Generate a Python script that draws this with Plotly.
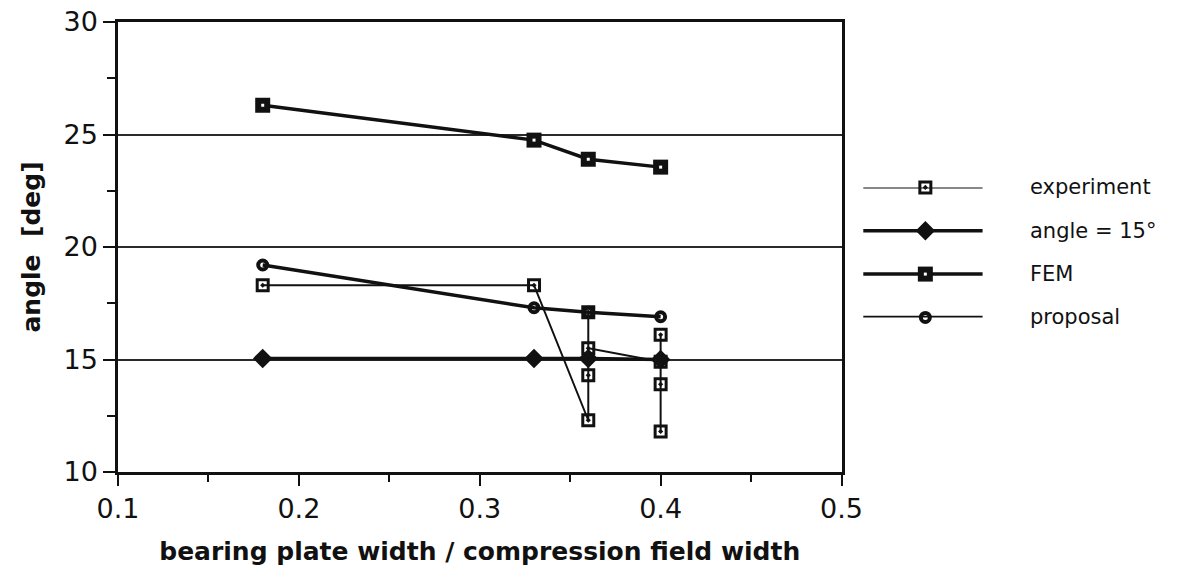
import plotly.graph_objects as go

# Ratio of bearing plate width to compression field width
ratio = [0.18, 0.33, 0.36, 0.40]

# Measured angles (several tests at the same ratio)
exp_x = [0.18, 0.33, 0.36, 0.36, 0.36, 0.36, 0.40, 0.40, 0.40, 0.40]
exp_y = [18.3, 18.3, 12.3, 14.3, 17.1, 15.5, 14.9, 16.1, 13.9, 11.8]

angle15 = [15.05, 15.05, 15.05, 15.0]
fem = [26.3, 24.75, 23.9, 23.55]
proposal = [19.2, 17.3, 17.1, 16.9]

series_names = ["experiment", "angle = 15°", "FEM", "proposal"]

FONT = "DejaVu Sans, Verdana, sans-serif"
BLACK = "#111111"

styles = [
    dict(width=2, marker=dict(symbol="square-open-dot", size=11, color=BLACK,
                              line=dict(color=BLACK, width=3))),
    dict(width=3.5, marker=dict(symbol="diamond", size=15, color=BLACK)),
    dict(width=3.5, marker=dict(symbol="square", size=15, color=BLACK)),
    dict(width=3.5, marker=dict(symbol="circle-open", size=9, color=BLACK,
                                line=dict(color=BLACK, width=4))),
]
# small white centre drawn on top of the filled FEM squares
fem_centre = dict(symbol="square", size=3, color="white")

fig = go.Figure()

series_x = [exp_x, ratio, ratio, ratio]
series_y = [exp_y, angle15, fem, proposal]
for name, xs, ys, st in zip(series_names, series_x, series_y, styles):
    fig.add_trace(go.Scatter(
        x=xs, y=ys, mode="lines+markers", name=name,
        line=dict(color=BLACK, width=st["width"]),
        marker=st["marker"], cliponaxis=False, showlegend=False))
    if name == "FEM":
        fig.add_trace(go.Scatter(
            x=xs, y=ys, mode="markers", hoverinfo="skip",
            marker=fem_centre, cliponaxis=False, showlegend=False))

# Legend keys drawn on a small auxiliary axis to the right of the plot
for k, (name, st) in enumerate(zip(series_names, styles)):
    fig.add_trace(go.Scatter(
        x=[0, 1], y=[k, k], mode="lines", xaxis="x2", yaxis="y2",
        line=dict(color=BLACK, width=st["width"]), cliponaxis=False,
        hoverinfo="skip", showlegend=False))
    fig.add_trace(go.Scatter(
        x=[0.52], y=[k], mode="markers", xaxis="x2", yaxis="y2",
        marker=st["marker"], cliponaxis=False,
        hoverinfo="skip", showlegend=False))
    if name == "FEM":
        fig.add_trace(go.Scatter(
            x=[0.52], y=[k], mode="markers", xaxis="x2", yaxis="y2",
            marker=fem_centre, cliponaxis=False,
            hoverinfo="skip", showlegend=False))
    fig.add_annotation(
        x=0.866, y=k, xref="paper", yref="y2", text=name, showarrow=False,
        xanchor="left", yanchor="middle",
        font=dict(family=FONT, size=21, color=BLACK))

fig.update_layout(
    width=1196, height=579,
    margin=dict(l=118, r=6, t=15, b=107),
    paper_bgcolor="white", plot_bgcolor="white",
    font=dict(family=FONT, color=BLACK),
    xaxis=dict(
        domain=[0, 0.6884],
        range=[0.1, 0.5], tickmode="linear", tick0=0.1, dtick=0.1,
        tickformat=".1f", ticklabeloverflow="allow",
        ticks="outside", ticklen=11, tickwidth=2, tickcolor=BLACK,
        minor=dict(dtick=0.05, ticks="outside", ticklen=7, tickwidth=2,
                   tickcolor=BLACK, showgrid=False),
        showline=True, linewidth=2.5, linecolor=BLACK, mirror=True,
        showgrid=False, zeroline=False,
        tickfont=dict(size=27, family=FONT, color=BLACK),
        title=dict(text="<b>bearing plate width / compression field width</b>",
                   font=dict(size=25, family=FONT, color=BLACK), standoff=20),
    ),
    yaxis=dict(
        range=[10, 30], tickmode="linear", tick0=10, dtick=5,
        ticklabeloverflow="allow",
        ticks="outside", ticklen=12, tickwidth=2, tickcolor=BLACK,
        minor=dict(dtick=2.5, ticks="outside", ticklen=8, tickwidth=2,
                   tickcolor=BLACK, showgrid=False),
        showline=True, linewidth=2.5, linecolor=BLACK, mirror=True,
        showgrid=True, gridcolor="#2a2a2a", gridwidth=2,
        zeroline=False,
        tickfont=dict(size=27, family=FONT, color=BLACK),
        title=dict(text="<b>angle  [deg]</b>",
                   font=dict(size=25, family=FONT, color=BLACK), standoff=16),
    ),
    xaxis2=dict(domain=[0.709, 0.8228], range=[0, 1], visible=False,
                fixedrange=True, anchor="y2"),
    yaxis2=dict(domain=[0.3435, 0.6324], range=[3, 0], visible=False,
                fixedrange=True, anchor="x2"),
)

fig.write_html("out.html")
